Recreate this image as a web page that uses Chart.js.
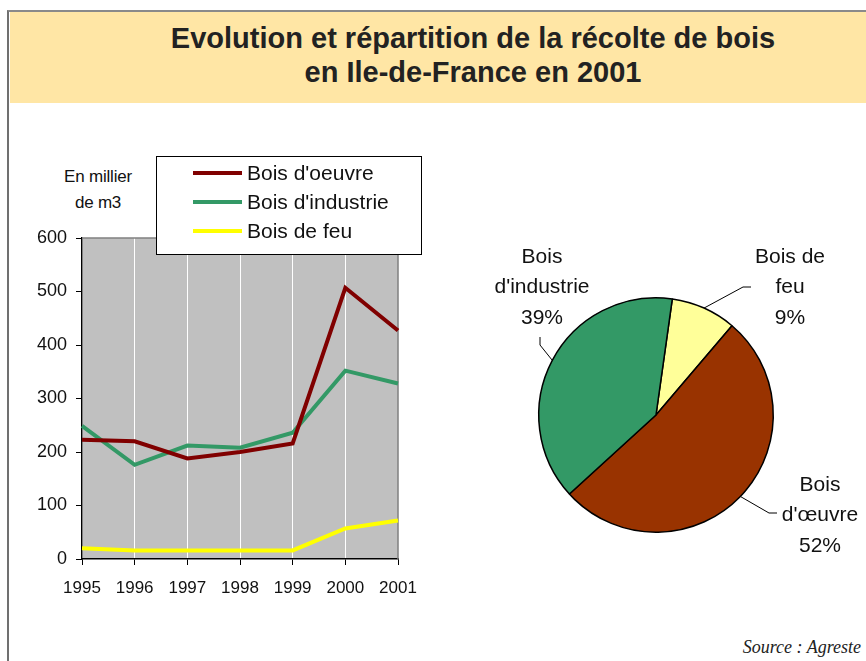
<!DOCTYPE html>
<html lang="fr">
<head>
<meta charset="utf-8">
<script src="https://cdn.jsdelivr.net/npm/chart.js@4.4.1/dist/chart.umd.min.js"></script>
<style>
  body { margin: 0; width: 866px; height: 661px; position: relative; overflow: hidden; background: #fff;
         font-family: "Liberation Sans", Arial, sans-serif; color: #111; }
  #cadre { position: absolute; left: 7px; top: 10px; width: 870px; height: 660px;
           border-left: 2px solid #707070; border-top: 2px solid #8a8a8a; }
  #bandeau { position: absolute; left: 10px; top: 12px; width: 856px; height: 91px; background: #ffe6a5; }
  .titre { position: absolute; left: 473px; transform: translateX(-50%); white-space: nowrap;
           font-weight: bold; font-size: 29px; color: #222; line-height: 34px; }
  #unite { position: absolute; left: 48px; top: 164px; width: 100px; text-align: center;
           font-size: 17px; line-height: 26px; letter-spacing: -0.2px; }
  #source { position: absolute; right: 5px; top: 637px; font-family: "Liberation Serif", "Times New Roman", serif;
            font-style: italic; font-size: 18px; color: #222; }
  canvas { position: absolute; }
</style>
</head>
<body>
<div id="cadre"></div>
<div id="bandeau"></div>
<div class="titre" style="top:21px">Evolution et répartition de la récolte de bois</div>
<div class="titre" style="top:55px">en Ile-de-France en 2001</div>
<div id="unite">En millier<br>de m3</div>
<div id="source">Source : Agreste</div>
<div style="position:absolute;left:0;top:0;width:470px;height:661px"><canvas id="graphique-evolution"></canvas></div>
<div style="position:absolute;left:470px;top:110px;width:396px;height:500px"><canvas id="graphique-repartition"></canvas></div>

<script>
// Récolte de bois en Ile-de-France (milliers de m3).
const annees = ['1995', '1996', '1997', '1998', '1999', '2000', '2001'];
const boisOeuvre = [223, 220, 188, 200, 216, 507, 427];
const boisIndustrie = [249, 176, 212, 208, 236, 352, 328];
const boisFeu = [20, 16, 16, 16, 16, 57, 72];
const nomsSeries = ["Bois d'oeuvre", "Bois d'industrie", 'Bois de feu'];

// Répartition 2001 (%), dans l'ordre du tracé en partant du haut.
const nomsParts = [['Bois de', 'feu'], ['Bois', "d'œuvre"], ['Bois', "d'industrie"]];
const partsPct = [9, 52, 39];

const POLICE = '"Liberation Sans", Arial, sans-serif';
Chart.defaults.font.family = POLICE;
Chart.defaults.color = '#111';

// Fond gris de la zone de tracé, bordure haute et droite.
const fondGris = {
  id: 'fondGris',
  beforeDraw(chart) {
    const { ctx, chartArea: a } = chart;
    ctx.save();
    ctx.fillStyle = '#c0c0c0';
    ctx.fillRect(a.left, a.top, a.right - a.left, a.bottom - a.top);
    ctx.restore();
  },
  beforeDatasetsDraw(chart) {
    const { ctx, chartArea: a } = chart;
    ctx.save();
    ctx.strokeStyle = '#808080';
    ctx.lineWidth = 1.5;
    ctx.beginPath();
    ctx.moveTo(a.left, a.top);
    ctx.lineTo(a.right, a.top);
    ctx.lineTo(a.right, a.bottom);
    ctx.stroke();
    ctx.restore();
  },
};

// Légende encadrée posée sur le haut du graphique.
const legendeCadre = {
  id: 'legendeCadre',
  afterDraw(chart) {
    const ctx = chart.ctx;
    ctx.save();
    ctx.fillStyle = '#fff';
    ctx.fillRect(156, 156, 265, 98);
    ctx.strokeStyle = '#000';
    ctx.lineWidth = 1;
    ctx.strokeRect(156.5, 156.5, 265, 98);
    ctx.font = '21px ' + POLICE;
    ctx.textBaseline = 'middle';
    chart.data.datasets.forEach((ds, i) => {
      const y = 173 + i * 29;
      ctx.strokeStyle = ds.borderColor;
      ctx.lineWidth = 4;
      ctx.beginPath();
      ctx.moveTo(193, y);
      ctx.lineTo(242, y);
      ctx.stroke();
      ctx.fillStyle = '#111';
      ctx.fillText(ds.label, 247, y + 1);
    });
    ctx.restore();
  },
};

new Chart(document.getElementById('graphique-evolution'), {
  type: 'line',
  data: {
    labels: annees,
    datasets: [
      { label: nomsSeries[0], data: boisOeuvre, borderColor: '#800000' },
      { label: nomsSeries[1], data: boisIndustrie, borderColor: '#339966' },
      { label: nomsSeries[2], data: boisFeu, borderColor: '#ffff00' },
    ],
  },
  options: {
    responsive: true,
    maintainAspectRatio: false,
    animation: false,
    layout: { padding: { top: 238, right: 72, left: 0, bottom: 0 } },
    elements: {
      line: { borderWidth: 4, tension: 0, fill: false },
      point: { radius: 0 },
    },
    plugins: { legend: { display: false }, tooltip: { enabled: false } },
    scales: {
      x: {
        offset: false,
        grid: { color: '#ffffff', lineWidth: 1, tickColor: '#000', tickLength: 6 },
        border: { color: '#000', width: 1.5 },
        ticks: { font: { size: 17 }, color: '#111', padding: 13, maxRotation: 0 },
        afterFit: (s) => { s.height = 102; },
      },
      y: {
        min: 0,
        max: 600,
        grid: { drawOnChartArea: false, tickColor: '#000', tickLength: 6 },
        border: { color: '#000', width: 1.5 },
        ticks: { stepSize: 100, font: { size: 18 }, color: '#111', padding: 9 },
        afterFit: (s) => { s.width = 82; },
      },
    },
  },
  plugins: [fondGris, legendeCadre],
});

// Emplacement des étiquettes du camembert (coordonnées du canevas).
const etiquettes = [
  { x: 320, y: 147, coude: [273, 177], fin: [281, 177] },
  { x: 350, y: 375, coude: [299, 403], fin: [307, 403] },
  { x: 72, y: 147, coude: [70, 235], fin: [70, 227] },
];

const etiquettesParts = {
  id: 'etiquettesParts',
  afterDraw(chart) {
    const ctx = chart.ctx;
    const arcs = chart.getDatasetMeta(0).data;
    ctx.save();
    ctx.font = '21px ' + POLICE;
    ctx.textAlign = 'center';
    ctx.textBaseline = 'middle';
    arcs.forEach((arc, i) => {
      const e = etiquettes[i];
      const mid = (arc.startAngle + arc.endAngle) / 2;
      const x0 = arc.x + Math.cos(mid) * arc.outerRadius;
      const y0 = arc.y + Math.sin(mid) * arc.outerRadius;
      ctx.strokeStyle = '#000';
      ctx.lineWidth = 1;
      ctx.beginPath();
      ctx.moveTo(x0, y0);
      ctx.lineTo(e.coude[0], e.coude[1]);
      ctx.lineTo(e.fin[0], e.fin[1]);
      ctx.stroke();
      const lignes = chart.data.labels[i].concat([chart.data.datasets[0].data[i] + '%']);
      ctx.fillStyle = '#111';
      lignes.forEach((t, k) => ctx.fillText(t, e.x, e.y + k * 30.5));
    });
    ctx.restore();
  },
};

new Chart(document.getElementById('graphique-repartition'), {
  type: 'pie',
  data: {
    labels: nomsParts,
    datasets: [{
      data: partsPct,
      backgroundColor: ['#ffff99', '#993300', '#339966'],
      borderColor: '#000',
      borderWidth: 1.5,
    }],
  },
  options: {
    responsive: true,
    maintainAspectRatio: false,
    animation: false,
    rotation: 8,
    layout: { padding: { left: 68, right: 92, top: 187, bottom: 77 } },
    plugins: { legend: { display: false }, tooltip: { enabled: false } },
  },
  plugins: [etiquettesParts],
});
</script>
</body>
</html>
